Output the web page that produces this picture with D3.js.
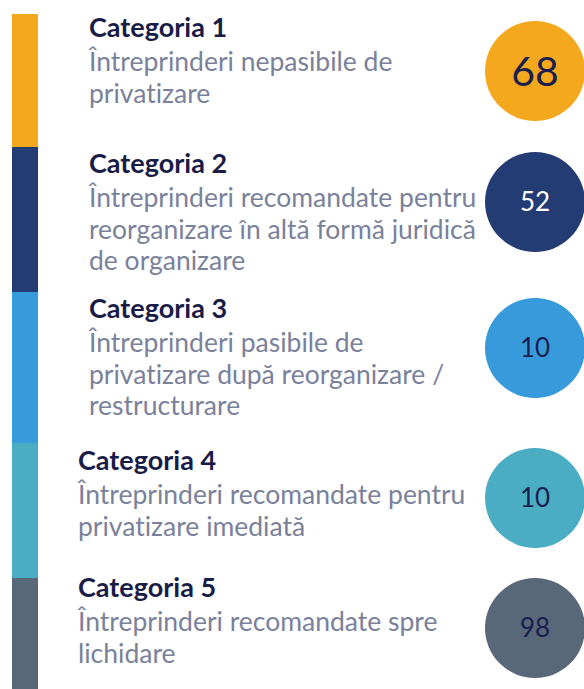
<!DOCTYPE html>
<html>
<head>
<meta charset="utf-8">
<script src="https://cdn.jsdelivr.net/npm/d3@7"></script>
<style>
    html, body { margin: 0; padding: 0; background: #ffffff; }
    svg { display: block; }
    text { font-variant-ligatures: none; font-feature-settings: "liga" 0; }
</style>
</head>
<body>
<div id="chart"></div>
<script>
// Chart data
const categories = ["Categoria 1", "Categoria 2", "Categoria 3", "Categoria 4", "Categoria 5"];
const descriptions = [
    ["Întreprinderi nepasibile de", "privatizare"],
    ["Întreprinderi recomandate pentru", "reorganizare în altă formă juridică", "de organizare"],
    ["Întreprinderi pasibile de", "privatizare după reorganizare /", "restructurare"],
    ["Întreprinderi recomandate pentru", "privatizare imediată"],
    ["Întreprinderi recomandate spre", "lichidare"]
];
const counts = [68, 52, 10, 10, 98];
const colors = ["#f4a81d", "#243c74", "#379bdb", "#4aadc4", "#586878"];
const numberColors = ["#1b1f4f", "#ffffff", "#1b1f4f", "#1b1f4f", "#1b1f4f"];

// Layout (pixels)
const width = 584, height = 689;
const bandEdges = [14, 147, 292, 443, 578, 689];   // left colour bar segments
const titleBaselines = [37, 173, 318, 470, 597];
const circleCenters = [71, 202, 348, 498, 628];
const textX = [89, 89, 89, 78, 78];
const lineHeight = 31.5;

const svg = d3.select("#chart")
    .append("svg")
    .attr("width", width)
    .attr("height", height);

const rows = categories.map((c, i) => ({
    title: c,
    lines: descriptions[i],
    count: counts[i],
    color: colors[i],
    numberColor: numberColors[i],
    i
}));

// Left colour bar
svg.selectAll("rect.band")
    .data(rows)
    .enter().append("rect")
    .attr("class", "band")
    .attr("x", 12)
    .attr("y", d => bandEdges[d.i])
    .attr("width", 26)
    .attr("height", d => bandEdges[d.i + 1] - bandEdges[d.i])
    .attr("fill", d => d.color);

const row = svg.selectAll("g.row")
    .data(rows)
    .enter().append("g")
    .attr("class", "row");

// Titles
row.append("text")
    .attr("x", d => textX[d.i])
    .attr("y", d => titleBaselines[d.i])
    .attr("font-family", "Lato, 'Open Sans', sans-serif")
    .attr("font-weight", 700)
    .attr("font-size", 27)
    .attr("fill", "#1a1c48")
    .text(d => d.title);

// Descriptions
row.each(function(d) {
    d3.select(this).selectAll("text.desc")
        .data(d.lines)
        .enter().append("text")
        .attr("class", "desc")
        .attr("x", textX[d.i])
        .attr("y", (l, k) => titleBaselines[d.i] + 34 + k * lineHeight)
        .attr("font-family", "Lato, 'Open Sans', sans-serif")
        .attr("font-size", 26.5)
        .attr("fill", "#7a819a")
        .text(l => l);
});

// Circles with counts
row.append("circle")
    .attr("cx", 535)
    .attr("cy", d => circleCenters[d.i])
    .attr("r", 50)
    .attr("fill", d => d.color);

row.append("text")
    .attr("x", 535)
    .attr("y", d => circleCenters[d.i])
    .attr("dy", "0.36em")
    .attr("text-anchor", "middle")
    .attr("font-family", "Lato, 'Open Sans', sans-serif")
    .attr("font-size", d => d.i === 0 ? 41 : 26)
    .attr("fill", d => d.numberColor)
    .text(d => d.count);
</script>
</body>
</html>
